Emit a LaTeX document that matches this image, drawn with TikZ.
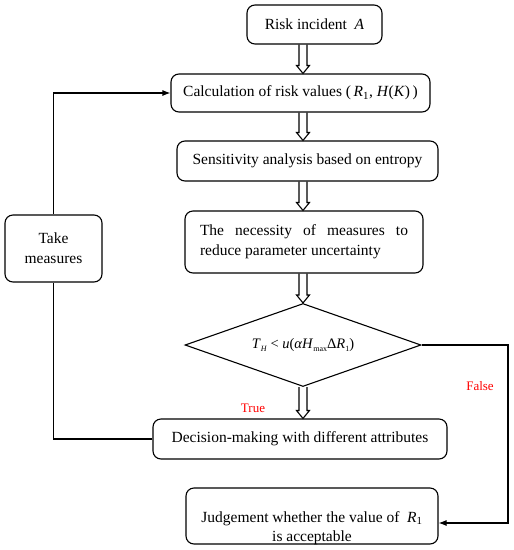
\documentclass[tikz,border=0pt]{standalone}
\usepackage{fontspec}
\setmainfont{Liberation Serif}
\usetikzlibrary{calc,shapes.geometric,arrows.meta}
\newcommand\harrow[2]{%
  \draw[line width=1.1pt,line join=miter] let \p1=(ax |- #1.south), \p2=(ax |- #2.north) in
    (\x1-4pt,\y1) -- (\x1-4pt,\y2+8pt) -- (\x1-6.5pt,\y2+8pt) -- (\x1,\y2) --
    (\x1+6.5pt,\y2+8pt) -- (\x1+4pt,\y2+8pt) -- (\x1+4pt,\y1);}
\newcommand\Rone{\textit{R}\textsubscript{1}}
\newcommand\smallsub[1]{\raisebox{-0.25em}{\fontsize{8}{9}\selectfont #1}}
\begin{document}
\begin{tikzpicture}[x=1pt,y=-1pt,
  box/.style={draw,line width=1.1pt,rounded corners=8pt,inner sep=0pt,
    font=\fontsize{15.5}{20}\selectfont,align=center},
  conn/.style={line width=1.1pt},
  tip/.style={conn,-{Latex[length=8pt,width=6pt]}},
  lab/.style={text=red,font=\fontsize{13}{15}\selectfont}]
\useasboundingbox (0,0) rectangle (514,550);
\coordinate (ax) at (303,0);
\coordinate (fx) at (508,0);
\node[box,minimum width=135pt,minimum height=39pt] (risk) at (314.5,24.5) {Risk incident\ \ \textit{A}};
\node[box,minimum width=259pt,minimum height=38pt] (calc) at (300.5,93)
  {Calculation of risk values (\,\Rone, \textit{H}(\textit{K})\,)};
\node[box,minimum width=261pt,minimum height=40pt] (sens) at (307.5,161) {Sensitivity analysis based on entropy};
\node[box,minimum width=238pt,minimum height=62pt,text width=208pt,align=justify] (nec) at (304,242)
  {The necessity of measures to\linebreak reduce parameter uncertainty};
\node[draw,line width=1.1pt,diamond,aspect=2.84,minimum width=236pt,minimum height=83pt,inner sep=0pt,
  font=\fontsize{14.5}{17}\selectfont] (dia) at (303,345)
  {\textit{T}\smallsub{\textit{H}} < \textit{u}(\textit{α}\textit{H}\smallsub{max}Δ\textit{R}\smallsub{1})};
\node[box,minimum width=294pt,minimum height=40pt] (dec) at (300,439) {Decision-making with different attributes};
\node[box,minimum width=97pt,minimum height=67pt] (take) at (53.5,248.5) {Take\\measures};
\node[box,minimum width=252pt,minimum height=56pt] (judge) at (312,516) {};
\node[font=\fontsize{15.5}{19}\selectfont,align=center] (judgetext) at (312,528)
  {Judgement whether the value of\ \ \Rone\\is acceptable};
\node[lab] (truelab) at (253,408) {True};
\node[lab] (falselab) at (480,386) {False};
\harrow{risk}{calc}
\harrow{calc}{sens}
\harrow{sens}{nec}
\harrow{nec}{dia}
\harrow{dia}{dec}
\draw[conn] (dec.west) -- (take.south |- dec.west) -- (take.south);
\draw[tip] (take.north) -- (take.north |- calc.west) -- (calc.west);
\coordinate (f1) at (fx |- dia.east);
\coordinate (f2) at (508,523);
\draw[tip] (dia.east) -- (f1) -- (f2) -- (judge.east |- f2);
\end{tikzpicture}
\end{document}
